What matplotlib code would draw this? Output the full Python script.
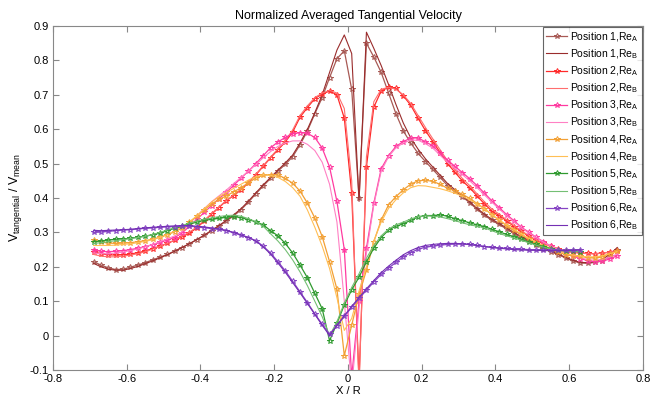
import numpy as np
import matplotlib
matplotlib.use("Agg")
import matplotlib.pyplot as plt

plt.rcParams['font.family'] = ['Liberation Sans', 'DejaVu Sans']
plt.rcParams['mathtext.fontset'] = 'custom'
plt.rcParams['mathtext.rm'] = 'Liberation Sans'

# sampling positions (X/R)
x_long = np.round(-0.69 + 0.02 * np.arange(72), 3)   # positions 1-4
x_short = np.round(-0.69 + 0.02 * np.arange(67), 3)  # positions 5-6

pos1_A = [0.215,0.205,0.197,0.192,0.193,0.199,0.205,0.212,0.22,0.228,
          0.236,0.246,0.256,0.267,0.279,0.291,0.304,0.318,0.333,0.348,
          0.366,0.388,0.412,0.435,0.457,0.478,0.498,0.52,0.555,0.595,
          0.645,0.692,0.75,0.805,0.828,0.716,0.40,0.85,0.81,0.765,
          0.705,0.645,0.595,0.56,0.53,0.506,0.483,0.46,0.436,0.42,
          0.404,0.386,0.367,0.35,0.335,0.323,0.31,0.297,0.285,0.274,
          0.263,0.253,0.244,0.235,0.226,0.217,0.211,0.21,0.213,0.217,
          0.23,0.25]
pos1_B = [0.21,0.2,0.193,0.19,0.19,0.195,0.201,0.209,0.217,0.226,
          0.235,0.245,0.256,0.267,0.279,0.292,0.306,0.32,0.335,0.351,
          0.369,0.391,0.415,0.438,0.46,0.481,0.502,0.525,0.56,0.60,
          0.648,0.70,0.765,0.83,0.874,0.82,0.39,0.882,0.835,0.785,
          0.73,0.672,0.618,0.575,0.542,0.514,0.49,0.466,0.442,0.424,
          0.407,0.389,0.37,0.353,0.338,0.326,0.313,0.3,0.288,0.277,
          0.266,0.256,0.246,0.237,0.228,0.219,0.213,0.212,0.215,0.222,
          0.236,0.256]
pos2_A = [0.244,0.238,0.235,0.234,0.235,0.237,0.241,0.246,0.253,0.26,
          0.268,0.277,0.287,0.298,0.313,0.333,0.353,0.372,0.392,0.407,
          0.424,0.444,0.467,0.492,0.517,0.54,0.563,0.592,0.635,0.663,
          0.689,0.702,0.711,0.70,0.632,0.414,-0.13,0.491,0.664,0.711,
          0.722,0.719,0.697,0.67,0.632,0.596,0.564,0.532,0.5,0.475,
          0.45,0.43,0.406,0.383,0.362,0.349,0.334,0.317,0.303,0.289,
          0.277,0.268,0.26,0.252,0.246,0.242,0.24,0.239,0.238,0.24,
          0.242,0.246]
pos2_B = [0.236,0.231,0.229,0.229,0.231,0.234,0.238,0.244,0.251,0.259,
          0.268,0.278,0.289,0.301,0.316,0.335,0.355,0.374,0.393,0.409,
          0.426,0.446,0.469,0.494,0.519,0.543,0.567,0.598,0.64,0.668,
          0.692,0.705,0.713,0.705,0.66,0.45,-0.15,0.52,0.68,0.716,
          0.722,0.716,0.7,0.675,0.64,0.605,0.572,0.54,0.508,0.482,
          0.457,0.436,0.412,0.389,0.368,0.353,0.337,0.32,0.305,0.291,
          0.279,0.269,0.261,0.253,0.247,0.243,0.24,0.238,0.238,0.24,
          0.243,0.248]
pos3_A = [0.249,0.245,0.244,0.245,0.247,0.25,0.254,0.259,0.264,0.271,
          0.278,0.285,0.298,0.318,0.338,0.358,0.378,0.398,0.416,0.437,
          0.458,0.478,0.5,0.523,0.546,0.563,0.576,0.587,0.59,0.588,
          0.576,0.545,0.49,0.39,0.25,-0.12,0.10,0.254,0.385,0.485,
          0.523,0.55,0.564,0.574,0.575,0.563,0.552,0.53,0.51,0.492,
          0.474,0.456,0.436,0.414,0.392,0.372,0.352,0.334,0.315,0.301,
          0.286,0.273,0.26,0.249,0.24,0.231,0.224,0.218,0.215,0.216,
          0.223,0.232]
pos3_B = [0.24,0.238,0.238,0.24,0.243,0.247,0.252,0.258,0.265,0.273,
          0.281,0.29,0.302,0.325,0.348,0.369,0.389,0.406,0.423,0.442,
          0.46,0.478,0.497,0.517,0.535,0.55,0.56,0.566,0.566,0.556,
          0.538,0.504,0.44,0.33,0.10,-0.15,0.08,0.24,0.38,0.478,
          0.52,0.546,0.56,0.568,0.568,0.558,0.545,0.524,0.504,0.486,
          0.468,0.45,0.43,0.409,0.388,0.368,0.349,0.331,0.313,0.299,
          0.285,0.272,0.26,0.25,0.241,0.233,0.226,0.221,0.219,0.221,
          0.228,0.237]
pos4_A = [0.278,0.272,0.269,0.268,0.269,0.27,0.273,0.276,0.28,0.286,
          0.293,0.302,0.312,0.33,0.347,0.366,0.382,0.396,0.406,0.418,
          0.43,0.444,0.458,0.466,0.468,0.467,0.457,0.443,0.42,0.385,
          0.342,0.288,0.215,0.135,-0.058,0.03,0.12,0.19,0.273,0.336,
          0.38,0.404,0.424,0.44,0.45,0.452,0.448,0.44,0.428,0.421,
          0.411,0.399,0.384,0.369,0.352,0.335,0.32,0.307,0.294,0.28,
          0.269,0.26,0.252,0.243,0.235,0.232,0.23,0.227,0.225,0.229,
          0.238,0.246]
pos4_B = [0.262,0.262,0.262,0.263,0.265,0.267,0.27,0.274,0.279,0.286,
          0.294,0.304,0.316,0.33,0.348,0.368,0.388,0.404,0.416,0.428,
          0.44,0.452,0.462,0.467,0.466,0.46,0.448,0.43,0.405,0.365,
          0.315,0.26,0.195,0.11,0.015,0.05,0.13,0.2,0.275,0.33,
          0.37,0.395,0.415,0.43,0.436,0.435,0.431,0.427,0.421,0.414,
          0.405,0.395,0.382,0.368,0.352,0.336,0.322,0.309,0.296,0.283,
          0.272,0.262,0.254,0.246,0.239,0.234,0.231,0.229,0.229,0.232,
          0.238,0.244]
pos5_A = [0.273,0.275,0.278,0.28,0.281,0.283,0.286,0.289,0.293,0.298,
          0.305,0.312,0.318,0.324,0.33,0.335,0.338,0.341,0.344,0.346,
          0.343,0.337,0.331,0.322,0.305,0.29,0.268,0.24,0.205,0.168,
          0.123,0.078,-0.015,0.036,0.089,0.133,0.17,0.215,0.254,0.285,
          0.307,0.318,0.325,0.335,0.345,0.349,0.349,0.351,0.347,0.34,
          0.334,0.328,0.322,0.317,0.309,0.302,0.294,0.288,0.28,0.272,
          0.265,0.259,0.253,0.249,0.246,0.245,0.244]
pos5_B = [0.268,0.27,0.273,0.276,0.279,0.282,0.285,0.289,0.294,0.3,
          0.307,0.314,0.32,0.327,0.333,0.338,0.342,0.346,0.349,0.35,
          0.347,0.34,0.331,0.318,0.296,0.275,0.25,0.22,0.185,0.145,
          0.10,0.055,0.0,0.04,0.095,0.14,0.18,0.225,0.262,0.29,
          0.31,0.322,0.33,0.339,0.346,0.348,0.347,0.345,0.34,0.334,
          0.328,0.322,0.318,0.313,0.305,0.297,0.29,0.284,0.277,0.27,
          0.263,0.257,0.252,0.248,0.246,0.245,0.245]
pos6_A = [0.300,0.301,0.303,0.305,0.307,0.308,0.310,0.312,0.313,0.315,
          0.316,0.317,0.318,0.318,0.316,0.314,0.311,0.309,0.305,0.299,
          0.292,0.285,0.276,0.26,0.24,0.215,0.188,0.158,0.127,0.096,
          0.063,0.033,0.004,0.028,0.056,0.082,0.108,0.132,0.156,0.178,
          0.196,0.213,0.229,0.241,0.251,0.257,0.26,0.263,0.265,0.266,
          0.266,0.265,0.262,0.259,0.257,0.255,0.254,0.252,0.251,0.25,
          0.249,0.249,0.248,0.248,0.248,0.248,0.249]
pos6_B = [0.306,0.305,0.306,0.307,0.308,0.309,0.311,0.313,0.315,0.316,
          0.318,0.319,0.32,0.32,0.318,0.316,0.313,0.31,0.306,0.3,
          0.293,0.285,0.275,0.258,0.237,0.211,0.184,0.154,0.124,0.093,
          0.062,0.03,0.0,0.03,0.058,0.085,0.111,0.136,0.16,0.183,
          0.202,0.219,0.235,0.247,0.256,0.262,0.265,0.267,0.268,0.268,
          0.267,0.265,0.262,0.259,0.256,0.254,0.252,0.25,0.249,0.248,
          0.248,0.247,0.247,0.247,0.247,0.248,0.249]

series = [
    (x_long, pos1_A, pos1_B, '#a85a55', '#9a2c2c'),
    (x_long, pos2_A, pos2_B, '#ff2a2a', '#ff6e6e'),
    (x_long, pos3_A, pos3_B, '#ff3aa0', '#ff80c4'),
    (x_long, pos4_A, pos4_B, '#f2a035', '#ffbf55'),
    (x_short, pos5_A, pos5_B, '#2f9a2f', '#74bf74'),
    (x_short, pos6_A, pos6_B, '#8644c4', '#7430b4'),
]

fig = plt.figure(figsize=(6.61, 3.98), dpi=100)
ax = fig.add_axes([53/661, 1-370/398, 590/661, 344/398])

for i, (xs, ya, yb, ca, cb) in enumerate(series):
    n = i + 1
    ax.plot(xs, ya, color=ca, lw=0.9, marker='*', ms=4.2, mfc='none',
            mec=ca, mew=0.7, label=f'Position {n},Re$_\\mathregular{{A}}$')
    ax.plot(xs, yb, color=cb, lw=0.8, label=f'Position {n},Re$_\\mathregular{{B}}$')

ax.set_xlim(-0.8, 0.8)
ax.set_ylim(-0.1, 0.9)
ax.set_xticks(np.arange(-0.8, 0.81, 0.2))
ax.set_yticks(np.arange(-0.1, 0.91, 0.1))
ax.set_xticklabels(['-0.8', '-0.6', '-0.4', '-0.2', '0', '0.2', '0.4', '0.6', '0.8'])
ax.set_yticklabels(['-0.1', '0', '0.1', '0.2', '0.3', '0.4', '0.5', '0.6', '0.7', '0.8', '0.9'])
ax.tick_params(direction='in', top=True, right=True, length=4, width=0.8,
               color='#888888', labelsize=8, pad=3)
for s in ax.spines.values():
    s.set_color('#888888')
    s.set_linewidth(0.8)

ax.set_title('Normalized Averaged Tangential Velocity', fontsize=9, pad=5)
ax.set_xlabel('X / R', fontsize=8, labelpad=1)
ax.set_ylabel('V$_\\mathregular{tangential}$ / V$_\\mathregular{mean}$', fontsize=9, labelpad=4)

leg = ax.legend(loc='upper right', fontsize=7.5, frameon=True, fancybox=False,
                edgecolor='#404040', borderaxespad=0.1, labelspacing=0.34,
                handlelength=2.0, handletextpad=0.3, borderpad=0.3)
leg.get_frame().set_linewidth(0.8)

fig.savefig('out.png', dpi=100)
